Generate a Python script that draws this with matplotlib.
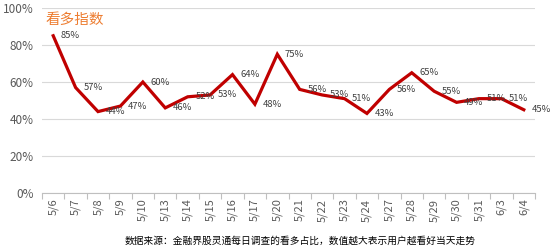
import matplotlib
matplotlib.use("Agg")
import matplotlib.pyplot as plt
import numpy as np

plt.rcParams['font.family'] = ['Noto Sans CJK SC', 'DejaVu Sans']

dates = ["5/6", "5/7", "5/8", "5/9", "5/10", "5/13", "5/14", "5/15", "5/16", "5/17",
         "5/20", "5/21", "5/22", "5/23", "5/24", "5/27", "5/28", "5/29", "5/30", "5/31",
         "6/3", "6/4"]
values = [85, 57, 44, 47, 60, 46, 52, 53, 64, 48,
          75, 56, 53, 51, 43, 56, 65, 55, 49, 51, 51, 45]
yticks = [0, 20, 40, 60, 80, 100]
title = "看多指数"
footer = "数据来源：金融界股灵通每日调查的看多占比，数值越大表示用户越看好当天走势"

fig = plt.figure(figsize=(5.53, 2.49), dpi=100)
ax = fig.add_axes([42/553, 1 - 193/249, (535-42)/553, (193-8)/249])

x = np.arange(len(dates))
ax.plot(x, values, color='#C00000', lw=2.3, solid_joinstyle='miter')
for xi, v in zip(x, values):
    ax.annotate(f"{v}%", (xi, v), xytext=(5.5, 0), textcoords='offset points',
                ha='left', va='center', fontsize=6.8, color='#404040')

ax.set_xlim(-0.5, len(dates) - 0.5)
ax.set_ylim(0, 100)
ax.set_yticks(yticks)
ax.set_yticklabels([f"{t}%" for t in yticks], fontsize=8.5, color='#595959')
ax.set_xticks(x)
ax.set_xticklabels(dates, rotation=90, fontsize=8, color='#595959')
ax.tick_params(axis='x', which='major', length=0, pad=4)
ax.set_xticks(np.arange(-0.5, len(dates), 1), minor=True)
ax.tick_params(axis='x', which='minor', length=4, color='#BFBFBF', width=0.8)
ax.tick_params(axis='y', length=0, pad=6)
ax.grid(axis='y', color='#D9D9D9', lw=0.8)
ax.set_axisbelow(True)
for s in ['top', 'right', 'left']:
    ax.spines[s].set_visible(False)
ax.spines['bottom'].set_color('#BFBFBF')
ax.spines['bottom'].set_linewidth(0.8)

fig.text(45/553, 1 - 20/249, title, fontsize=10.5, color='#ED7D31', ha='left', va='center')
fig.text(300/553, 1 - 241/249, footer, fontsize=7, color='#000000', ha='center', va='center')

fig.savefig("out.png", dpi=100)
